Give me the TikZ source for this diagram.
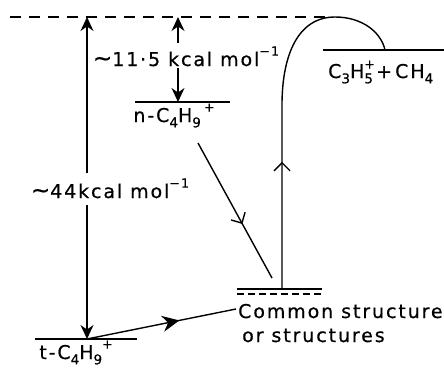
\documentclass[tikz,border=0pt]{standalone}
\usepackage{fontspec}
\setmainfont{DejaVu Sans}[LetterSpace=10,FakeBold=0.6]
\usetikzlibrary{arrows.meta,decorations.markings}
\newcommand\mysub[1]{\raisebox{-0.28em}{\fontsize{13.5}{14}\selectfont #1}}
\newcommand\mysupr[1]{\raisebox{0.55em}{\fontsize{12.5}{13}\selectfont #1}}
\newcommand\mysubsup[2]{\makebox[0pt][l]{\raisebox{0.5em}{\fontsize{12.5}{13}\selectfont #2}}\raisebox{-0.28em}{\fontsize{13.5}{14}\selectfont #1}}
\newcommand\mytil{{\fontsize{23}{23}\selectfont ∼}}
\begin{document}
\begin{tikzpicture}[x=1pt,y=-1pt,
  lev/.style={line width=1.5pt},
  ln/.style={line width=1.4pt},
  lab/.style={inner sep=0pt,font=\fontsize{19}{22}\selectfont},
  endarrow/.style={-{Stealth[length=14pt,width=13pt]}},
  midopen/.style={postaction={decorate,decoration={markings,mark=at position #1 with {\arrow[line width=1.4pt]{Straight Barb[length=8pt,width=16pt]}}}}},
  midfill/.style={postaction={decorate,decoration={markings,mark=at position #1 with {\arrow{Stealth[length=17pt,width=16pt]}}}}}
]
\useasboundingbox (0,0) rectangle (444,367);
\clip (0,0) rectangle (444,367);
% coordinates
\coordinate (dL) at (10,17);
\coordinate (dR) at (330,17);
\coordinate (peak) at (335,17);
\coordinate (tL) at (35,339);
\coordinate (tR) at (137,339);
\coordinate (tA) at (87,339);
\coordinate (bigTop) at (87,17);
\coordinate (bigU) at (87,173);
\coordinate (bigD) at (87,205);
\coordinate (smTop) at (178,17);
\coordinate (smU) at (178,43);
\coordinate (smD) at (178,68);
\coordinate (nA) at (178,102);
\coordinate (nL) at (135,102);
\coordinate (nR) at (230,102);
\coordinate (diagS) at (198,143);
\coordinate (diagE) at (272,278);
\coordinate (cL) at (237,289);
\coordinate (cR) at (322,289);
\coordinate (cdL) at (237,294);
\coordinate (cdR) at (322,294);
\coordinate (cA) at (282,289);
\coordinate (upTop) at (282,105);
\coordinate (pL) at (323,50);
\coordinate (pR) at (444,50);
\coordinate (pA) at (385,50);
\coordinate (cText) at (236,309);
% dashed top line
\draw[ln,dash pattern=on 11pt off 8pt] (dL) -- (dR);
% big arrow
\draw[ln,endarrow] (bigU) -- (bigTop);
\draw[ln,endarrow] (bigD) -- (tA);
\node[lab,anchor=base] (l44) at (110,198) {\mytil44kcal mol\mysupr{−1}};
% small arrow
\draw[ln,endarrow] (smU) -- (smTop);
\draw[ln,endarrow] (smD) -- (nA);
\node[lab,anchor=base] (l115) at (186,66) {\mytil11·5 kcal mol\mysupr{−1}};
% levels
\draw[lev] (tL) -- (tR);
\draw[lev] (nL) -- (nR);
\draw[lev] (cL) -- (cR);
\draw[lev,dash pattern=on 7pt off 4pt] (cdL) -- (cdR);
\draw[lev] (pL) -- (pR);
% labels
\node[lab,anchor=base] (tlab) at (76,359) {t-C\mysub{4}H\mysub{9}\mysupr{+}};
\node[lab,anchor=base] (nlab) at (174,122) {n-C\mysub{4}H\mysub{9}\,\mysupr{+}};
\node[lab,anchor=base west] (com1) at (238,318) {Common structure};
\node[lab,anchor=base west] (com2) at (242,342) {or structures};
\node[lab,anchor=base west] (plab) at (328,78) {C\mysub{3}H\mysubsup{5}{+}\,+\,CH\mysub{4}};
% connectors
\draw[ln,midopen=0.6] (diagS) -- (diagE);
\draw[ln,midfill=0.62] (tA) -- (cText);
\draw[ln,midopen=0.35] (cA) -- (upTop) .. controls (282,55) and (298,17) .. (peak) .. controls (362,17) and (381,32) .. (pA);
\end{tikzpicture}
\end{document}
